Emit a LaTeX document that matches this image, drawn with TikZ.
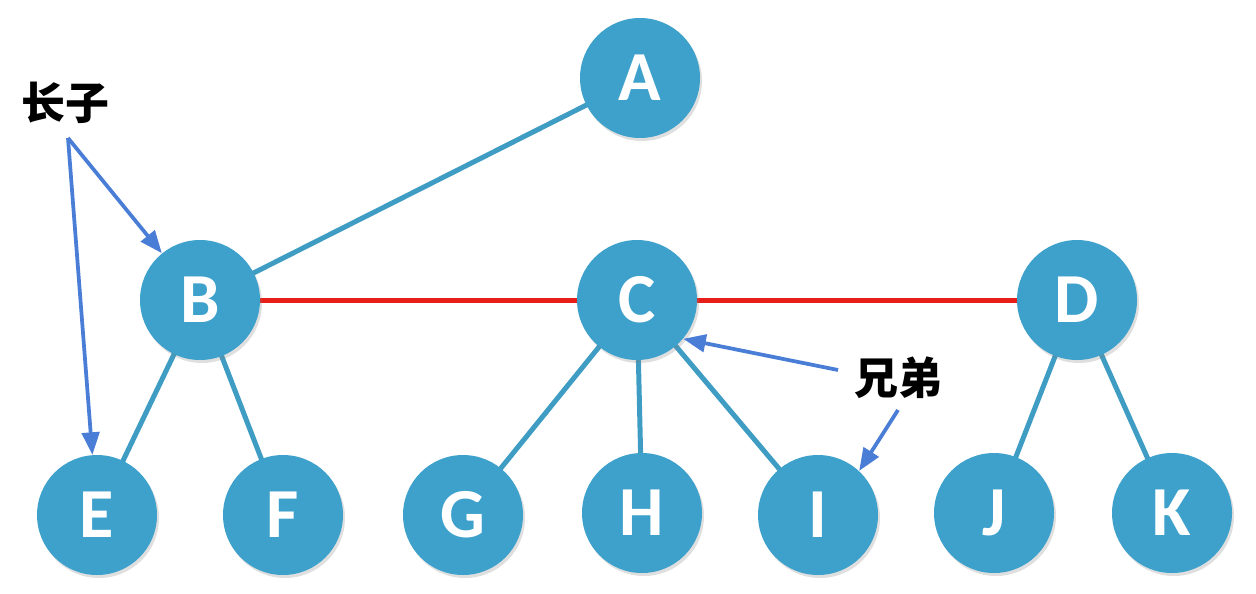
\documentclass[tikz,border=0pt]{standalone}
\usepackage{fontspec}
\setmainfont{Carlito}
\newfontfamily\cjk{Noto Sans CJK SC}
\usetikzlibrary{arrows.meta,shadows}

\definecolor{nodeblue}{RGB}{61,161,204}
\definecolor{edgeblue}{RGB}{63,157,196}
\definecolor{arrowblue}{RGB}{74,125,214}
\definecolor{siblingred}{RGB}{232,30,24}

\begin{document}
\begin{tikzpicture}[
  tree node/.style={circle,fill=nodeblue,minimum size=24mm,inner sep=0pt,
    text=white,font=\fontsize{40}{40}\selectfont\bfseries,
    drop shadow={shadow xshift=0.4mm,shadow yshift=-0.6mm,opacity=0.25}},
  tree edge/.style={draw=edgeblue,line width=1mm},
  sibling edge/.style={draw=siblingred,line width=1mm},
  note/.style={font=\cjk\fontsize{25}{25}\selectfont\bfseries,text=black},
  note arrow/.style={draw=arrowblue,line width=0.75mm,
    -{Triangle[length=4.5mm,width=3.5mm]}},
]
\useasboundingbox (0,0) rectangle (25.12,-11.86);
% edges first, nodes on top
\coordinate (pA) at (12.8,-1.56);
\coordinate (pB) at (4.0,-6.0);
\coordinate (pC) at (12.74,-6.0);
\coordinate (pD) at (21.54,-6.0);
\coordinate (pE) at (1.94,-10.3);
\coordinate (pF) at (5.66,-10.3);
\coordinate (pG) at (9.26,-10.3);
\coordinate (pH) at (12.84,-10.26);
\coordinate (pI) at (16.36,-10.3);
\coordinate (pJ) at (19.88,-10.26);
\coordinate (pK) at (23.44,-10.26);
\draw[tree edge] (pA) -- (pB);
\draw[tree edge] (pB) -- (pE);
\draw[tree edge] (pB) -- (pF);
\draw[tree edge] (pC) -- (pG);
\draw[tree edge] (pC) -- (pH);
\draw[tree edge] (pC) -- (pI);
\draw[tree edge] (pD) -- (pJ);
\draw[tree edge] (pD) -- (pK);
\draw[sibling edge] (pB) -- (pC);
\draw[sibling edge] (pC) -- (pD);
\node[tree node] (A) at (pA) {A};
\node[tree node] (B) at (pB) {B};
\node[tree node] (C) at (pC) {C};
\node[tree node] (D) at (pD) {D};
\node[tree node] (E) at (pE) {E};
\node[tree node] (F) at (pF) {F};
\node[tree node] (G) at (pG) {G};
\node[tree node] (H) at (pH) {H};
\node[tree node] (I) at (pI) {I};
\node[tree node] (J) at (pJ) {J};
\node[tree node] (K) at (pK) {K};
% notes
\node[note] (eldest) at (1.3,-2.06) {长子};
\node[note] (brothers) at (17.96,-7.56) {兄弟};
\coordinate (eldestTail) at (1.36,-2.76);
\coordinate (brotherTailA) at (16.76,-7.4);
\coordinate (brotherTailB) at (17.96,-8.2);
\draw[note arrow] (eldestTail) -- (B);
\draw[note arrow] (eldestTail) -- (E);
\draw[note arrow] (brotherTailA) -- (C.-40);
\draw[note arrow] (brotherTailB) -- (I.47);
\end{tikzpicture}
\end{document}
